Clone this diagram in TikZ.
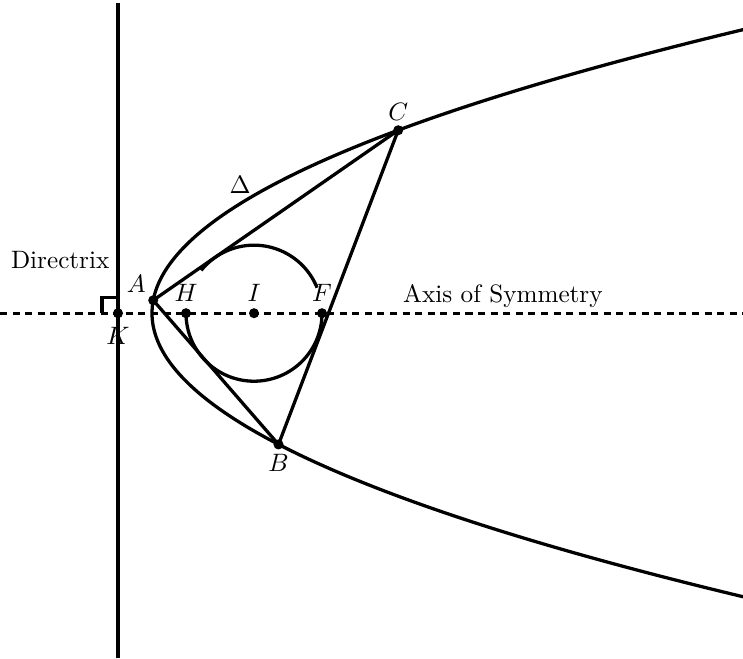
\documentclass[tikz,border=0pt]{standalone}
\usepackage{amsmath}
\usepackage{amssymb}
\usepackage{tikz}

\begin{document}
\begin{tikzpicture}[scale=0.475, line width=1.3pt,
    dot/.style={circle, fill=black, inner sep=0pt, minimum size=4pt}]
    \useasboundingbox (-4.47,-10.15) rectangle (17.38,9.21);
    \clip (-4.47,-10.15) rectangle (17.38,9.21);
    % Points on the axis and on the parabola
    \coordinate (K) at (-1,0);
    \coordinate (H) at (1,0);
    \coordinate (I) at (3,0);
    \coordinate (F) at (5,0);
    \coordinate (A) at (0.036,0.38);
    \coordinate (B) at (3.72,-3.86);
    \coordinate (C) at (7.24,5.38);
    \coordinate (axisL) at (-4.47,0);
    \coordinate (axisR) at (17.38,0);
    \coordinate (dirT) at (-1,9.12);
    \coordinate (dirB) at (-1,-10.15);
    % Inscribed circle, broken behind the labels H and F
    \draw ([shift={(22:2)}]I) arc (22:141:2);
    \draw (H) arc (180:360:2);
    % Axis, directrix and right angle
    \draw[dash pattern=on 2.8pt off 2.2pt] (axisL) -- (axisR);
    \draw (dirB) -- (dirT);
    \draw (-1,0.47) -- (-1.47,0.47) -- (-1.47,0);
    % Parabola
    \draw[domain=-8.6:8.6, samples=120, smooth, variable=\t] plot ({\t*\t/4},{\t});
    % Triangle
    \draw (A) -- (C) -- (B) -- cycle;
    \foreach \p in {K,H,I,F,A,B,C} \node[dot] at (\p) {};
    % Labels
    \node[above=2pt, inner sep=2pt] (lH) at (H) {$H$};
    \node[above=2pt, inner sep=2pt] (lI) at (I) {$I$};
    \node[above=2pt, inner sep=2pt] (lF) at (F) {$F$};
    \node[above left=-1pt] (lA) at (A) {$A$};
    \node[below=1.5pt] (lK) at (K) {$K$};
    \node[above=0pt] (lC) at (C) {$C$};
    \node[below=0pt] (lB) at (B) {$B$};
    \node (ldir) at (-2.7,1.56) {Directrix};
    \node (laxis) at (10.32,0.5) {Axis of Symmetry};
    \node (ldelta) at (2.59,3.76) {$\Delta$};
\end{tikzpicture}
\end{document}
